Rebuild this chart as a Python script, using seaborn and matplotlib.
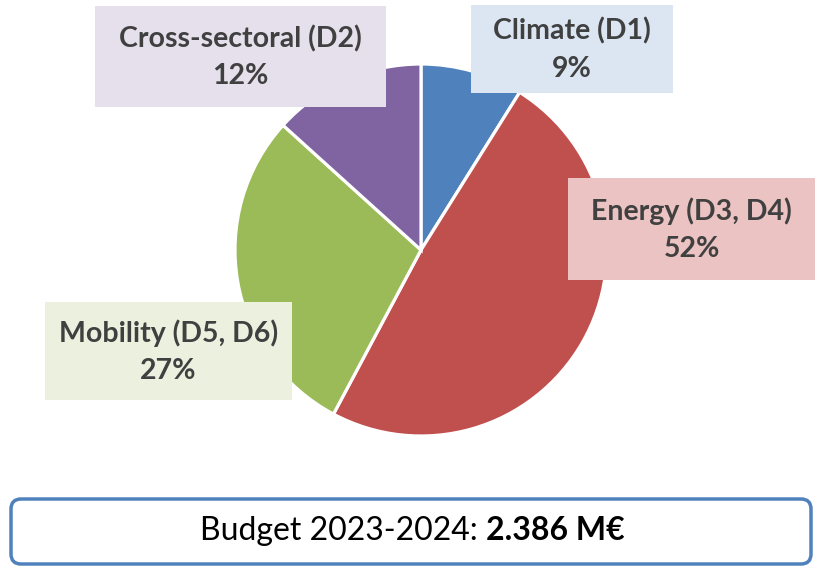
import matplotlib
matplotlib.use("Agg")
import matplotlib.pyplot as plt
import seaborn as sns
from matplotlib.patches import Rectangle, FancyBboxPatch

# shares as drawn in the pie
categories = ["Climate (D1)", "Energy (D3, D4)", "Mobility (D5, D6)", "Cross-sectoral (D2)"]
shares = [8.9, 48.9, 28.9, 13.3]
pct_labels = ["9%", "52%", "27%", "12%"]
budget_label = "Budget 2023-2024: "
budget_value = "2.386 M\u20ac"

wedge_colors = ["#4F81BD", "#C0504D", "#9BBB59", "#8064A2"]
box_colors = ["#DCE6F2", "#EAC3C2", "#EBF1DE", "#E6E0EC"]
# label boxes in pixel coords (x0, y0 top, x1, y1 bottom)
boxes = [(471, 5, 673, 93), (568, 178, 815, 280), (45, 302, 292, 400), (95, 6, 386, 107)]

W, H = 815, 568

sns.set_style("white")
palette = sns.color_palette(wedge_colors)
plt.rcParams['font.family'] = ['Lato', 'DejaVu Sans']

fig = plt.figure(figsize=(W / 100, H / 100), dpi=100)
ax = fig.add_axes([0, 0, 1, 1])

def fy(y):
    return H - y

ax.pie(shares, colors=palette, startangle=90, counterclock=False,
       center=(421, fy(250)), radius=186,
       wedgeprops=dict(edgecolor='white', linewidth=2.3))

for (x0, y0, x1, y1), c, name, pct in zip(boxes, box_colors, categories, pct_labels):
    ax.add_patch(Rectangle((x0, fy(y1)), x1 - x0, y1 - y0, facecolor=c, edgecolor='none', zorder=3))
    cx = (x0 + x1) / 2
    cy = (y0 + y1) / 2
    ax.text(cx, fy(cy - 18), name, ha='center', va='center', fontsize=20.5,
            fontweight='bold', color='#404040', zorder=4)
    ax.text(cx, fy(cy + 20), pct, ha='center', va='center', fontsize=20.5,
            fontweight='bold', color='#404040', zorder=4)

# budget box
ax.add_patch(FancyBboxPatch((11, fy(564)), 800, 65, boxstyle="round,pad=0,rounding_size=10",
                            facecolor='white', edgecolor='#4F81BD', linewidth=2.5, zorder=3))
ax.text(486, fy(531), budget_label, ha='right', va='center', fontsize=23, color='black', zorder=4)
ax.text(486, fy(531), budget_value, ha='left', va='center', fontsize=23,
        fontweight='bold', color='black', zorder=4)

ax.set_xlim(0, W)
ax.set_ylim(0, H)
ax.set_aspect('auto')
ax.axis('off')

fig.savefig("out.png", dpi=100)
